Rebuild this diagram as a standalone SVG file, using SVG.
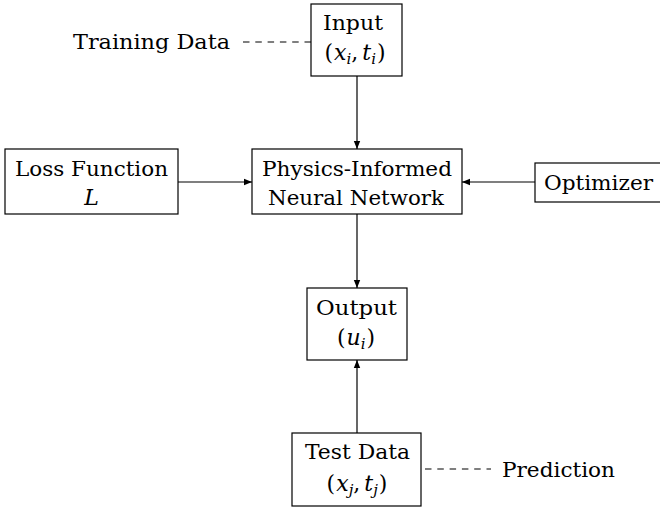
<svg xmlns="http://www.w3.org/2000/svg" width="660" height="508" viewBox="0 0 660 508">
  <style>
    text { font-family: 'DejaVu Serif', 'Liberation Serif', 'Noto Serif', serif; font-size: 20px; fill: #000; }
    .lbl { text-anchor: middle; }
    .m { font-style: italic; }
    .math { font-size: 22px; }
    .sub { font-size: 15px; font-style: italic; }
    .box { fill: #fff; stroke: #000; stroke-width: 1.2; }
    .edge { stroke: #000; stroke-width: 1.2; fill: none; }
    .dash { stroke: #000; stroke-width: 1.2; fill: none; stroke-dasharray: 6.5 5.8; }
  </style>
  <defs>
    <marker id="arr" viewBox="0 0 10 10" refX="10" refY="5" markerWidth="8" markerHeight="8" markerUnits="userSpaceOnUse" orient="auto">
      <path d="M0,1 L10,5 L0,9 Z" fill="#000"/>
    </marker>
  </defs>

  <g id="connectors">
    <line class="edge" x1="357" y1="76" x2="357" y2="149" marker-end="url(#arr)"/>
    <line class="edge" x1="178" y1="182" x2="252" y2="182" marker-end="url(#arr)"/>
    <line class="edge" x1="535" y1="182" x2="462" y2="182" marker-end="url(#arr)"/>
    <line class="edge" x1="357" y1="214" x2="357" y2="288" marker-end="url(#arr)"/>
    <line class="edge" x1="357" y1="433" x2="357" y2="360" marker-end="url(#arr)"/>
    <line class="dash" x1="243" y1="42" x2="311" y2="42"/>
    <line class="dash" x1="425" y1="469" x2="491" y2="469"/>
  </g>

  <g id="training-data">
    <text x="73" y="49" textLength="157" lengthAdjust="spacingAndGlyphs">Training Data</text>
  </g>

  <g id="input">
    <rect class="box" x="311" y="4" width="91" height="72"/>
    <text class="lbl" x="353" y="30" textLength="60" lengthAdjust="spacingAndGlyphs">Input</text>
    <text class="lbl math" x="355" y="60">(<tspan class="m" dx="1">x</tspan><tspan class="sub" dy="4">i</tspan><tspan dy="-4">,</tspan><tspan class="m" dx="4">t</tspan><tspan class="sub" dy="4">i</tspan><tspan dy="-4" dx="1">)</tspan></text>
  </g>

  <g id="loss">
    <rect class="box" x="5" y="149" width="173" height="65"/>
    <text class="lbl" x="91.5" y="176" textLength="153" lengthAdjust="spacingAndGlyphs">Loss Function</text>
    <text class="lbl m math" x="91.5" y="205">L</text>
  </g>

  <g id="pinn">
    <rect class="box" x="252" y="149" width="210" height="65"/>
    <text class="lbl" x="357" y="176" textLength="190" lengthAdjust="spacingAndGlyphs">Physics-Informed</text>
    <text class="lbl" x="356" y="205" textLength="176" lengthAdjust="spacingAndGlyphs">Neural Network</text>
  </g>

  <g id="optimizer">
    <rect class="box" x="535" y="163" width="135" height="39"/>
    <text class="lbl" x="598.5" y="190" textLength="109" lengthAdjust="spacingAndGlyphs">Optimizer</text>
  </g>

  <g id="output">
    <rect class="box" x="307" y="288" width="100" height="72"/>
    <text class="lbl" x="356.5" y="315" textLength="81" lengthAdjust="spacingAndGlyphs">Output</text>
    <text class="lbl math" x="356" y="345">(<tspan class="m" dx="1">u</tspan><tspan class="sub" dy="4">i</tspan><tspan dy="-4" dx="1">)</tspan></text>
  </g>

  <g id="test-data">
    <rect class="box" x="292" y="433" width="129" height="73"/>
    <text class="lbl" x="357.5" y="459" textLength="105" lengthAdjust="spacingAndGlyphs">Test Data</text>
    <text class="lbl math" x="357" y="491">(<tspan class="m" dx="1">x</tspan><tspan class="sub" dy="4">j</tspan><tspan dy="-4">,</tspan><tspan class="m" dx="4">t</tspan><tspan class="sub" dy="4">j</tspan><tspan dy="-4" dx="1">)</tspan></text>
  </g>

  <g id="prediction">
    <text x="502" y="477" textLength="113" lengthAdjust="spacingAndGlyphs">Prediction</text>
  </g>
</svg>
